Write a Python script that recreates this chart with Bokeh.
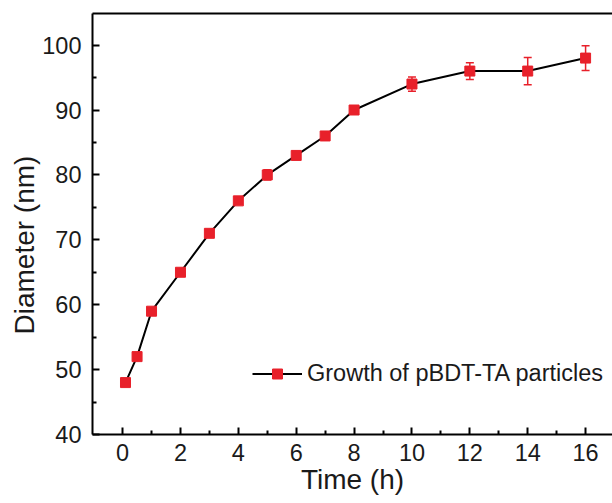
from bokeh.plotting import figure
from bokeh.models import (ColumnDataSource, FixedTicker, LinearAxis, Range1d,
                          Whisker, TeeHead, Legend, LegendItem, Title)
from bokeh.embed import file_html
from bokeh.resources import INLINE

# Particle growth over time
time_h = [0.1, 0.5, 1, 2, 3, 4, 5, 6, 7, 8, 10, 12, 14, 16]
diameter_nm = [48, 52, 59, 65, 71, 76, 80, 83, 86, 90, 94, 96, 96, 98]
error_nm = [0, 0, 0, 0, 0, 0, 0.8, 0.6, 0, 0, 1.1, 1.3, 2.1, 1.9]

x_ticks = [0, 2, 4, 6, 8, 10, 12, 14, 16]
y_ticks = [40, 50, 60, 70, 80, 90, 100]

RED = "#E8202A"
FONT = "Liberation Sans"
TXT = "#1a1a1a"

p = figure(width=612, height=503, output_backend="svg", toolbar_location=None,
           x_range=Range1d(-1.04, 16.93), y_range=Range1d(40, 104.87),
           min_border_left=92, min_border_right=0, min_border_top=13,
           min_border_bottom=69)
p.outline_line_color = None
p.grid.visible = False
p.background_fill_color = "white"
p.border_fill_color = "white"

src = ColumnDataSource(dict(t=time_h, d=diameter_nm))
line_r = p.line("t", "d", source=src, line_color="black", line_width=2)
mark_r = p.scatter("t", "d", source=src, marker="square", size=10,
                   fill_color=RED, line_color=RED)

# error bars only where an uncertainty was measured
et = [t for t, e in zip(time_h, error_nm) if e > 0]
ed = [d for d, e in zip(diameter_nm, error_nm) if e > 0]
ee = [e for e in error_nm if e > 0]
err_src = ColumnDataSource(dict(t=et,
                                lo=[d - e for d, e in zip(ed, ee)],
                                hi=[d + e for d, e in zip(ed, ee)]))
p.add_layout(Whisker(base="t", lower="lo", upper="hi", source=err_src,
                     line_color=RED, line_width=1.5,
                     upper_head=TeeHead(size=8, line_color=RED, line_width=1.5),
                     lower_head=TeeHead(size=8, line_color=RED, line_width=1.5)))

for ax in (p.xaxis[0], p.yaxis[0]):
    ax.axis_line_width = 2
    ax.major_tick_line_width = 2
    ax.minor_tick_line_width = 2
    ax.major_tick_in = 7
    ax.major_tick_out = 0
    ax.minor_tick_in = 4
    ax.minor_tick_out = 0
    ax.major_label_text_font = FONT
    ax.major_label_text_font_size = "23.5px"
    ax.major_label_text_color = TXT

p.xaxis[0].ticker = FixedTicker(ticks=x_ticks, minor_ticks=[1, 3, 5, 7, 9, 11, 13, 15])
p.yaxis[0].ticker = FixedTicker(ticks=y_ticks, minor_ticks=[45, 55, 65, 75, 85, 95])
p.xaxis[0].major_label_standoff = 9
p.yaxis[0].major_label_standoff = 11

p.xaxis[0].axis_label = "Time (h)"
p.xaxis[0].axis_label_text_font = FONT
p.xaxis[0].axis_label_text_font_size = "28px"
p.xaxis[0].axis_label_text_font_style = "normal"
p.xaxis[0].axis_label_text_color = TXT
p.xaxis[0].axis_label_standoff = 0

# y title, set slightly below the middle of the frame
p.add_layout(Title(text="Diameter (nm)", align="left", offset=100, standoff=0,
                   text_font=FONT, text_font_size="28px",
                   text_font_style="normal", text_color=TXT), "left")

# top frame edge
top = LinearAxis(ticker=FixedTicker(ticks=[]), axis_line_width=2,
                 major_tick_line_color=None, minor_tick_line_color=None,
                 major_label_text_font_size="0px")
p.add_layout(top, "above")

legend = Legend(items=[LegendItem(label="Growth of pBDT-TA particles",
                                  renderers=[line_r, mark_r])],
                location=(160, 47), padding=0, margin=0,
                border_line_color=None, background_fill_alpha=0,
                glyph_width=50, glyph_height=25, label_standoff=5,
                label_text_font=FONT, label_text_font_size="23.5px",
                label_text_color=TXT)
p.add_layout(legend)

open("out.html", "w").write(file_html(p, INLINE))
